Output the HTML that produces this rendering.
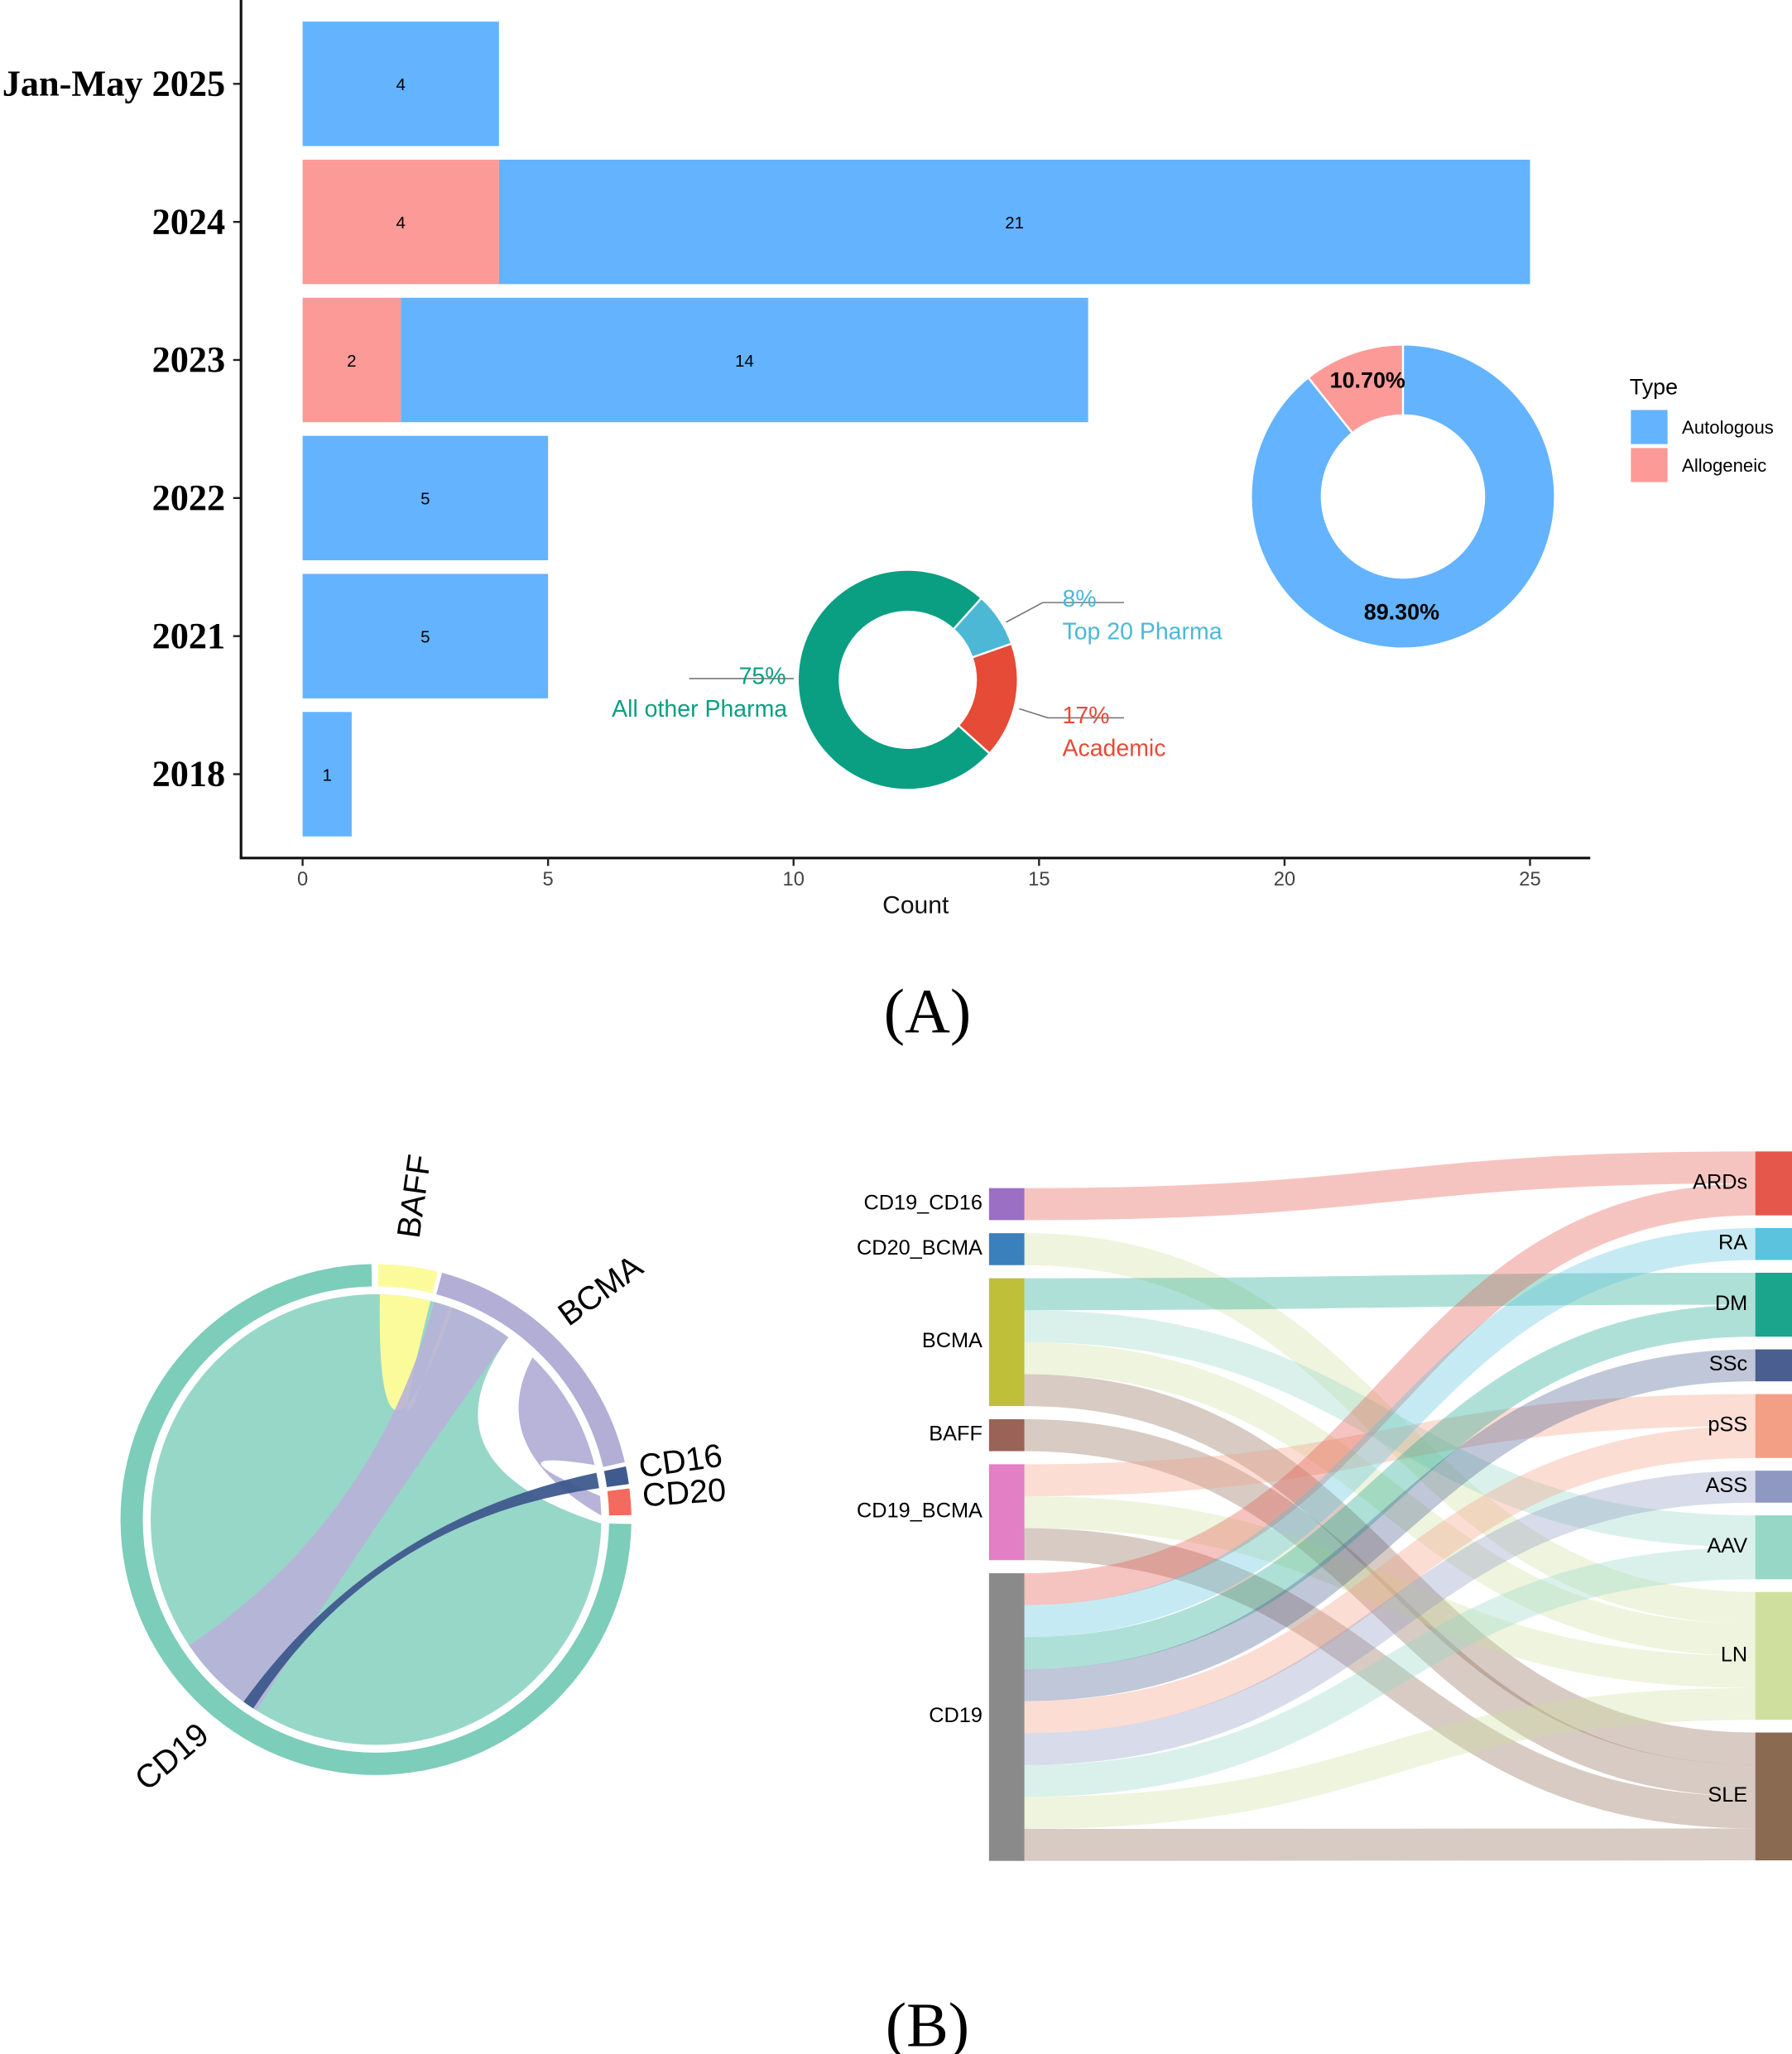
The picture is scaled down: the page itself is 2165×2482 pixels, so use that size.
<!DOCTYPE html>
<html><head><meta charset="utf-8">
<style>
html,body{margin:0;padding:0;background:#fff;}
svg{display:block;}
text{font-family:"Liberation Sans",sans-serif;}
.serif{font-family:"Liberation Serif",serif;}
</style></head>
<body>
<svg id="root" width="2165" height="2482" viewBox="0 0 1368 1568" preserveAspectRatio="none" xmlns="http://www.w3.org/2000/svg">
<g id="bar"></g>
<g id="donuts"></g>
<g id="chord"></g>
<g id="sankey"></g>
<text class="serif" x="708" y="788" font-size="48" text-anchor="middle">(A)</text>
<text class="serif" x="708" y="1562" font-size="48" text-anchor="middle">(B)</text>
</svg>
<script>
const years = ["Jan-May 2025","2024","2023","2022","2021","2018"];
const allogeneic = [0,4,2,0,0,0];
const autologous = [4,21,14,5,5,1];
const xTicks = [0,5,10,15,20,25];
const typeShares = [89.3,10.7];
const typeLabels = ["89.30%","10.70%"];
const sponsorShares = [8,17,75];
const sponsorLabels = ["Top 20 Pharma","Academic","All other Pharma"];
const sankeySources = ["CD19_CD16","CD20_BCMA","BCMA","BAFF","CD19_BCMA","CD19"];
const sankeyTargets = ["ARDs","RA","DM","SSc","pSS","ASS","AAV","LN","SLE"];
const sankeyLinks = [["CD19_CD16","ARDs",1],["CD20_BCMA","LN",1],["BCMA","DM",1],["BCMA","AAV",1],["BCMA","LN",1],["BCMA","SLE",1],["BAFF","SLE",1],["CD19_BCMA","pSS",1],["CD19_BCMA","LN",1],["CD19_BCMA","SLE",1],["CD19","ARDs",1],["CD19","RA",1],["CD19","DM",1],["CD19","SSc",1],["CD19","pSS",1],["CD19","ASS",1],["CD19","AAV",1],["CD19","LN",1],["CD19","SLE",1]];
const chordSectors = ["BAFF","BCMA","CD16","CD20","CD19"];

const NS="http://www.w3.org/2000/svg";
function mk(parent,tag,attrs,txt){const e=document.createElementNS(NS,tag);for(const k in attrs)e.setAttribute(k,attrs[k]);if(txt!==undefined)e.textContent=txt;parent.appendChild(e);return e;}

// ---------- Bar chart
const bar=document.getElementById('bar');
const x0=231,x25=1168;
const xs=v=>x0+(x25-x0)*v/25;
const ys=i=>64+i*105.4;
const BH=95;
years.forEach((y,i)=>{
  const cy=ys(i);
  if(allogeneic[i]>0){
    const r=mk(bar,'rect',{x:xs(0),y:cy-BH/2,width:xs(allogeneic[i])-xs(0),height:BH,fill:'#fc9a98'});
    
    
    mk(bar,'text',{x:(xs(0)+xs(allogeneic[i]))/2,y:cy+5,'font-size':13,'text-anchor':'middle'},allogeneic[i]);
  }
  const a0=allogeneic[i],a1=a0+autologous[i];
  const r2=mk(bar,'rect',{x:xs(a0),y:cy-BH/2,width:xs(a1)-xs(a0),height:BH,fill:'#64b3ff'});
  
  
  mk(bar,'text',{x:(xs(a0)+xs(a1))/2,y:cy+5,'font-size':13,'text-anchor':'middle'},autologous[i]);
  const t=mk(bar,'text',{x:172,y:cy+9,'font-size':28,'font-weight':'bold','text-anchor':'end','class':'serif'},y);
  
  
  mk(bar,'line',{x1:178,x2:184,y1:cy,y2:cy,stroke:'#222','stroke-width':1.5});
});
mk(bar,'line',{x1:184,y1:0,x2:184,y2:655,stroke:'#111','stroke-width':2});
mk(bar,'line',{x1:183,y1:655,x2:1214,y2:655,stroke:'#111','stroke-width':2});
xTicks.forEach(v=>{
  mk(bar,'line',{x1:xs(v),x2:xs(v),y1:655,y2:661,stroke:'#222','stroke-width':1.5});
  const t=mk(bar,'text',{x:xs(v),y:676,'font-size':15,fill:'#444','text-anchor':'middle'},v);
  
  
});
const xt=mk(bar,'text',{x:699,y:697,'font-size':19,'text-anchor':'middle',fill:'#111'},'Count');


const lg=mk(bar,'g',{});


mk(lg,'text',{x:1244,y:301,'font-size':17},'Type');
mk(lg,'rect',{x:1245,y:313,width:28,height:26,fill:'#64b3ff'});
mk(lg,'text',{x:1284,y:331,'font-size':14},'Autologous');
mk(lg,'rect',{x:1245,y:342,width:28,height:26,fill:'#fc9a98'});
mk(lg,'text',{x:1284,y:360,'font-size':14},'Allogeneic');

// ---------- donuts
const dn=document.getElementById('donuts');
function pol(cx,cy,r,deg){const a=(deg-90)*Math.PI/180;return [cx+r*Math.cos(a),cy+r*Math.sin(a)];}
function ring(g,cx,cy,R,r,a1,a2,fill){
  const large=(a2-a1)>180?1:0;
  const p1=pol(cx,cy,R,a1),p2=pol(cx,cy,R,a2),p3=pol(cx,cy,r,a2),p4=pol(cx,cy,r,a1);
  return mk(g,'path',{d:`M${p1} A${R},${R} 0 ${large} 1 ${p2} L${p3} A${r},${r} 0 ${large} 0 ${p4} Z`,fill:fill,stroke:'#fff','stroke-width':1.5});
}
{
  const cx=1071,cy=379,total=typeShares[0]+typeShares[1];
  const allo=typeShares[1]/total*360;
  const s1=ring(dn,cx,cy,116,62,0,360-allo,'#64b3ff');
  
  
  const s2=ring(dn,cx,cy,116,62,360-allo,360,'#fc9a98');
  
  
  mk(dn,'text',{x:1044,y:296,'font-size':17,'font-weight':'bold','text-anchor':'middle'},typeLabels[1]);
  mk(dn,'text',{x:1070,y:473,'font-size':17,'font-weight':'bold','text-anchor':'middle'},typeLabels[0]);
}
{
  const cx=693,cy=519,cols=['#4cb8d6','#e54b37','#0a9f82'];
  let a=42;
  sponsorShares.forEach((s,i)=>{
    const sw=s/100*360;
    const p=ring(dn,cx,cy,84,52,a,a+sw,cols[i]);
    
    
    a+=sw;
  });
  mk(dn,'polyline',{points:'768,475 796,460 858,460',fill:'none',stroke:'#777','stroke-width':1});
  mk(dn,'text',{x:811,y:463,'font-size':18,fill:'#4cb8d6'},sponsorShares[0]+'%');
  mk(dn,'text',{x:811,y:488,'font-size':18,fill:'#4cb8d6'},sponsorLabels[0]);
  mk(dn,'polyline',{points:'778,541 800,548 858,548',fill:'none',stroke:'#777','stroke-width':1});
  mk(dn,'text',{x:811,y:552,'font-size':18,fill:'#e54b37'},sponsorShares[1]+'%');
  mk(dn,'text',{x:811,y:577,'font-size':18,fill:'#e54b37'},sponsorLabels[1]);
  mk(dn,'line',{x1:526,y1:518,x2:606,y2:518,stroke:'#777','stroke-width':1});
  mk(dn,'text',{x:600,y:522,'font-size':18,fill:'#0a9f82','text-anchor':'end'},sponsorShares[2]+'%');
  mk(dn,'text',{x:601,y:547,'font-size':18,fill:'#0a9f82','text-anchor':'end'},sponsorLabels[2]);
}

// ---------- chord
const ch=document.getElementById('chord');
{
  const cx=287,cy=1160,RO=195,RI=178,RC=172;
  const P=(r,d)=>pol(cx,cy,r,d);
  function ribbon(a1,a2,b1,b2,fill,op,ctrl){
    const c=ctrl||[cx,cy];
    const A1=P(RC,a1),A2=P(RC,a2),B1=P(RC,b1),B2=P(RC,b2);
    const la=(a2-a1)>180?1:0, lb=(b2-b1)>180?1:0;
    return mk(ch,'path',{d:`M${A1} A${RC},${RC} 0 ${la} 1 ${A2} Q${c} ${B1} A${RC},${RC} 0 ${lb} 1 ${B2} Q${c} ${A1} Z`,fill:fill,'fill-opacity':op});
  }
  const secs=[[0.5,14,'#fbfb9c'],[15,77,'#b3aed5'],[78,82,'#3e5a8e'],[83,89,'#f36a5e'],[91,359,'#7ccdb9']];
  secs.forEach((s,i)=>{
    const p=ring(ch,cx,cy,RO,RI,s[0],s[1],s[2]);
    p.setAttribute('stroke','none');
    
    
  });
  const g1=mk(ch,'circle',{cx:cx,cy:cy,r:RC,fill:'#97d7c8'});
  
  
  // white gap region
  const W1=P(RC,36),W2=P(RC,91);
  mk(ch,'path',{d:`M${W1} A${RC},${RC} 0 0 1 ${W2} Q318,1118 ${W1} Z`,fill:'#fff'});
  const y1=ribbon(1,14,19,20,'#fbfb9c',1);
  
  
  const p1=ribbon(15,36,212,236,'#b8b3d8',0.9);
  
  
  const p2=ribbon(44,76,84,89,'#b8b3d8',1,[370,1105]);
  
  
  const d1=ribbon(78,82,213,216,'#3e5a8e',0.95);
  
  
  const lab=(t,x,y,rot)=>{const e=mk(ch,'text',{x:x,y:y,'font-size':25,transform:`rotate(${rot} ${x} ${y})`},t);};
  lab('BAFF',320,946,-82);
  lab('BCMA',434,1013,-36);
  lab('CD16',489,1128,-8);
  lab('CD20',491,1150,-4);
  lab('CD19',112,1368,-40);
}

// ---------- sankey
const sk=document.getElementById('sankey');
{
  const unit=24.4;
  const srcCol={"CD19_CD16":"#9b6fc4","CD20_BCMA":"#3a80bd","BCMA":"#bfbf3a","BAFF":"#9a6358","CD19_BCMA":"#e27fc5","CD19":"#8a8a8a"};
  const tgtCol={"ARDs":"#e5574a","RA":"#5bc3de","DM":"#1aa58c","SSc":"#4a5e8f","pSS":"#f39f85","ASS":"#8f98c0","AAV":"#96d7c6","LN":"#cfe09e","SLE":"#8b6a52"};
  const sVal={},tVal={};
  sankeyLinks.forEach(l=>{sVal[l[0]]=(sVal[l[0]]||0)+l[2];tVal[l[1]]=(tVal[l[1]]||0)+l[2];});
  const sY={},tY={};
  let y=907;
  sankeySources.forEach(s=>{sY[s]=y;y+=sVal[s]*unit+10;});
  y=879;
  sankeyTargets.forEach(t=>{tY[t]=y;y+=tVal[t]*unit+9.7;});
  const sOff={...sY},tOff={...tY};
  const L=782,R=1340;
  const ordered=[...sankeyLinks].sort((a,b)=>sankeySources.indexOf(a[0])-sankeySources.indexOf(b[0])||sankeyTargets.indexOf(a[1])-sankeyTargets.indexOf(b[1]));
  ordered.forEach(l=>{
    const h=l[2]*unit;
    const ya=sOff[l[0]]+h/2; sOff[l[0]]+=h;
    const yb=tOff[l[1]]+h/2; tOff[l[1]]+=h;
    const mx=(L+R)/2;
    const p=mk(sk,'path',{d:`M${L},${ya} C${mx},${ya} ${mx},${yb} ${R},${yb}`,fill:'none',stroke:tgtCol[l[1]],'stroke-opacity':0.35,'stroke-width':h});
    
    
  });
  sankeySources.forEach(s=>{
    const r=mk(sk,'rect',{x:755,y:sY[s],width:27,height:sVal[s]*unit,fill:srcCol[s]});
    
    
    mk(sk,'text',{x:750,y:sY[s]+sVal[s]*unit/2+4,'font-size':16,'text-anchor':'end'},s);
  });
  sankeyTargets.forEach(t=>{
    const r=mk(sk,'rect',{x:1340,y:tY[t],width:28,height:tVal[t]*unit,fill:tgtCol[t]});
    
    
    mk(sk,'text',{x:1334,y:tY[t]+tVal[t]*unit/2+4,'font-size':16,'text-anchor':'end'},t);
  });
}
</script>
</body></html>
